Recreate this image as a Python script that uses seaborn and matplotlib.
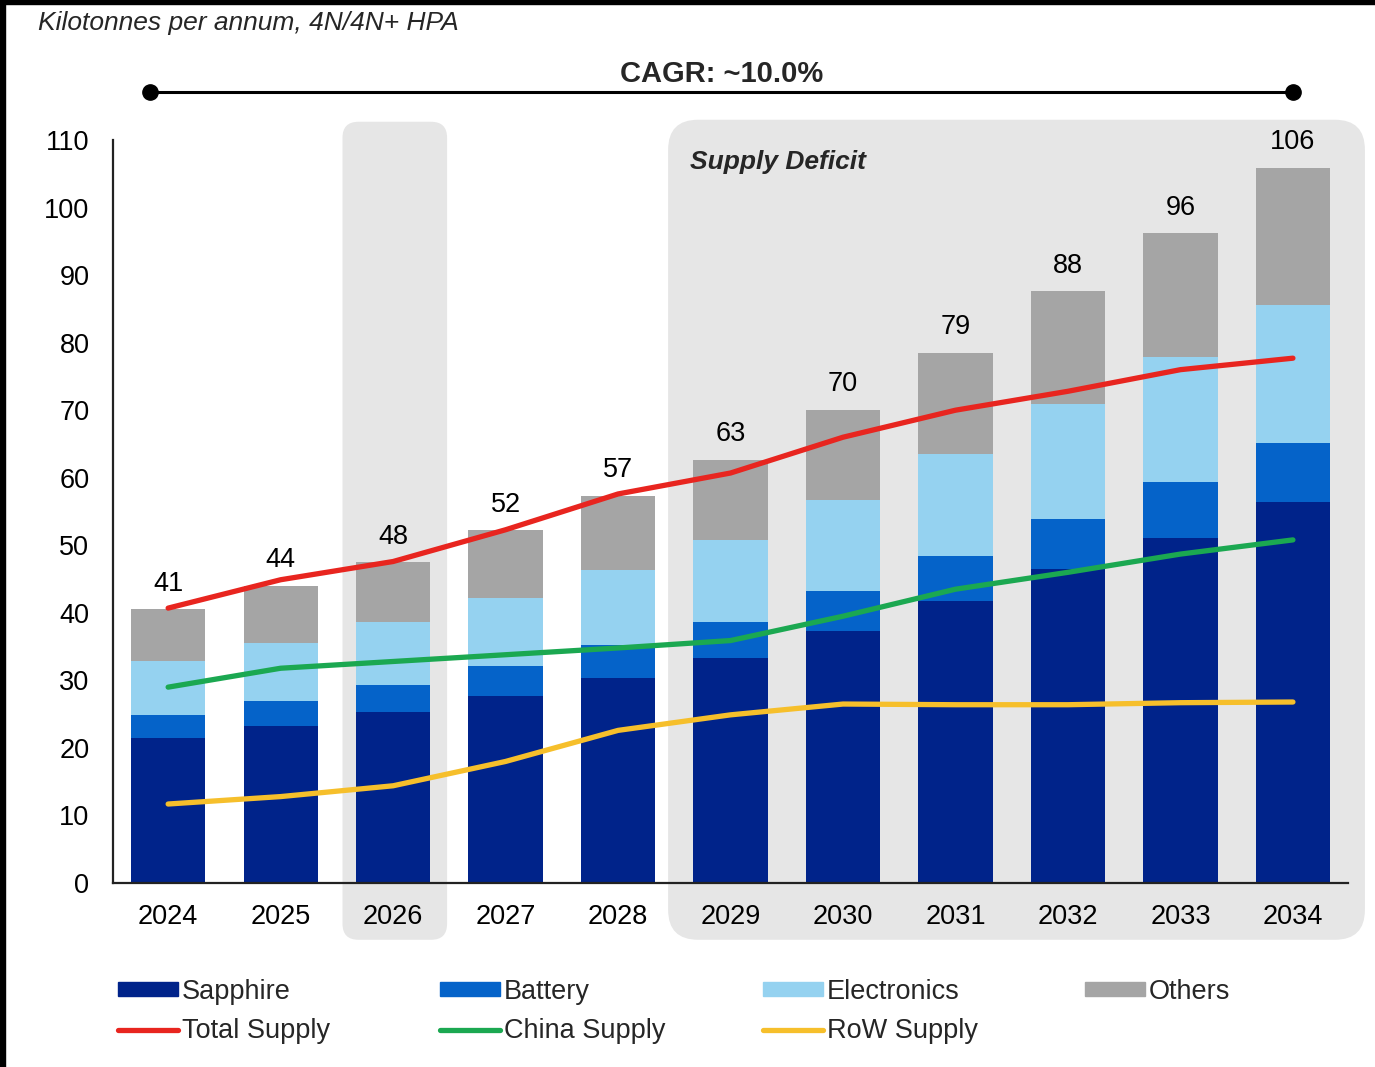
import numpy as np
import pandas as pd
import matplotlib
matplotlib.use("Agg")
import matplotlib.pyplot as plt
import seaborn as sns
from matplotlib.patches import FancyBboxPatch, Rectangle, Patch
from matplotlib.lines import Line2D
from matplotlib.transforms import IdentityTransform

# ---------------- data ----------------
years = ["2024", "2025", "2026", "2027", "2028", "2029", "2030", "2031", "2032", "2033", "2034"]
sapphire = [21.5, 23.3, 25.3, 27.7, 30.3, 33.3, 37.3, 41.8, 46.5, 51.1, 56.4]
battery = [3.4, 3.7, 4.0, 4.5, 4.9, 5.3, 5.9, 6.6, 7.4, 8.2, 8.8]
electronics = [7.9, 8.6, 9.3, 10.0, 11.1, 12.2, 13.5, 15.1, 17.0, 18.6, 20.4]
others = [7.7, 8.4, 8.9, 10.0, 11.0, 11.9, 13.4, 15.0, 16.7, 18.3, 20.3]
total_labels = ["41", "44", "48", "52", "57", "63", "70", "79", "88", "96", "106"]

total_supply = [40.7, 44.9, 47.6, 52.3, 57.6, 60.7, 66.0, 70.0, 72.8, 76.0, 77.7]
china_supply = [29.0, 31.8, 32.8, 33.8, 34.8, 35.9, 39.5, 43.5, 46.0, 48.7, 50.8]
row_supply = [11.7, 12.8, 14.4, 18.0, 22.6, 24.9, 26.5, 26.4, 26.4, 26.7, 26.8]

highlight_year = "2026"
deficit_start = "2029"

# ---------------- style ----------------
sns.set_theme(style="white")
plt.rcParams["font.family"] = ["Liberation Sans", "DejaVu Sans"]

C_SAP = "#00238a"
C_BAT = "#0563c9"
C_ELE = "#95d2f0"
C_OTH = "#a5a5a5"
C_TOT = "#e8251f"
C_CHN = "#1ba851"
C_ROW = "#f6bf2b"
C_REG = "#e6e6e6"

W, H, DPI = 1375, 1067, 100
fig = plt.figure(figsize=(W / DPI, H / DPI), dpi=DPI, facecolor="white")
ax = fig.add_axes([0.0822, 0.1724, 0.8982, 0.6964])
ax.patch.set_alpha(0)

df = pd.DataFrame({"year": years, "sapphire": sapphire, "battery": battery,
                   "electronics": electronics, "others": others})
df["c1"] = df["sapphire"]
df["c2"] = df["c1"] + df["battery"]
df["c3"] = df["c2"] + df["electronics"]
df["c4"] = df["c3"] + df["others"]

BW = 0.66
for col, colr in [("c4", C_OTH), ("c3", C_ELE), ("c2", C_BAT), ("c1", C_SAP)]:
    sns.barplot(data=df, x="year", y=col, color=colr, width=BW, saturation=1,
                ax=ax, zorder=2, linewidth=0)

idx = np.arange(len(years))
for vals, colr in [(total_supply, C_TOT), (china_supply, C_CHN), (row_supply, C_ROW)]:
    sns.lineplot(x=idx, y=vals, color=colr, linewidth=3.8, ax=ax, zorder=4,
                 solid_capstyle="round")

ax.set_xlim(-0.49, len(years) - 1 + 0.49)
ax.set_ylim(0, 110)
ax.set_yticks(range(0, 111, 10))
ax.set_xlabel("")
ax.set_ylabel("")
ax.tick_params(axis="both", length=0, labelsize=19.5, colors="black")
ax.tick_params(axis="y", pad=17)
ax.tick_params(axis="x", pad=15)
for s in ["top", "right"]:
    ax.spines[s].set_visible(False)
for s in ["left", "bottom"]:
    ax.spines[s].set_color("#222222")
    ax.spines[s].set_linewidth(1.6)

# total labels
for i, lab in enumerate(total_labels):
    ax.annotate(lab, (i, df["c4"][i]), xytext=(0, 9), textcoords="offset points",
                ha="center", va="bottom", fontsize=19.5, color="black", zorder=5)

# ---------------- shaded regions ----------------
fig.canvas.draw()

def region(x0, x1, y0, y1, r):
    p0 = ax.transData.transform((x0, y0))
    p1 = ax.transData.transform((x1, y1))
    patch = FancyBboxPatch((p0[0], p0[1]), p1[0] - p0[0], p1[1] - p0[1],
                           boxstyle=f"round,pad=0,rounding_size={r}",
                           transform=IdentityTransform(), facecolor=C_REG,
                           edgecolor="none", zorder=0.5, clip_on=False)
    ax.add_patch(patch)

hi = years.index(highlight_year)
region(hi - 0.45, hi + 0.48, -8.4, 112.7, 16)
ds = years.index(deficit_start)
region(ds - 0.555, len(years) - 1 + 0.64, -8.4, 113.0, 30)

ax.text(ds - 0.36, 106.7, "Supply Deficit", fontsize=19, fontweight="bold",
        fontstyle="italic", ha="left", va="center", zorder=5)

# CAGR bracket
ax.plot([-0.16, len(years) - 1], [117.1, 117.1], color="black", lw=2.2,
        marker="o", markersize=11, clip_on=False, zorder=5)
ax.text(4.92, 119.7, "CAGR: ~10.0%", fontsize=21, fontweight="bold",
        ha="center", va="center", clip_on=False)

# subtitle
fig.text(0.0276, 0.978, "Kilotonnes per annum, 4N/4N+ HPA", fontsize=19,
         fontstyle="italic", ha="left", va="center")

# ---------------- legend ----------------
cols = [
    [Patch(color=C_SAP, label="Sapphire"), Line2D([], [], color=C_TOT, lw=3.8, label="Total Supply")],
    [Patch(color=C_BAT, label="Battery"), Line2D([], [], color=C_CHN, lw=3.8, label="China Supply")],
    [Patch(color=C_ELE, label="Electronics"), Line2D([], [], color=C_ROW, lw=3.8, label="RoW Supply")],
    [Patch(color=C_OTH, label="Others")],
]
xs = [0.0858, 0.3200, 0.5549, 0.7891]
for x, hs in zip(xs, cols):
    fig.legend(handles=hs, loc="upper left", bbox_to_anchor=(x, 0.0828),
               frameon=False, fontsize=19.5, handlelength=2.2, handleheight=0.45,
               handletextpad=0.16, labelspacing=0.5, borderpad=0, borderaxespad=0)

# black border fragments
fig.add_artist(Rectangle((0, 1 - 4 / H), 1, 4 / H, transform=fig.transFigure,
                         color="black", zorder=10))
fig.add_artist(Rectangle((0, 0), 5 / W, 1, transform=fig.transFigure,
                         color="black", zorder=10))

fig.savefig("out.png", dpi=DPI, facecolor="white")
